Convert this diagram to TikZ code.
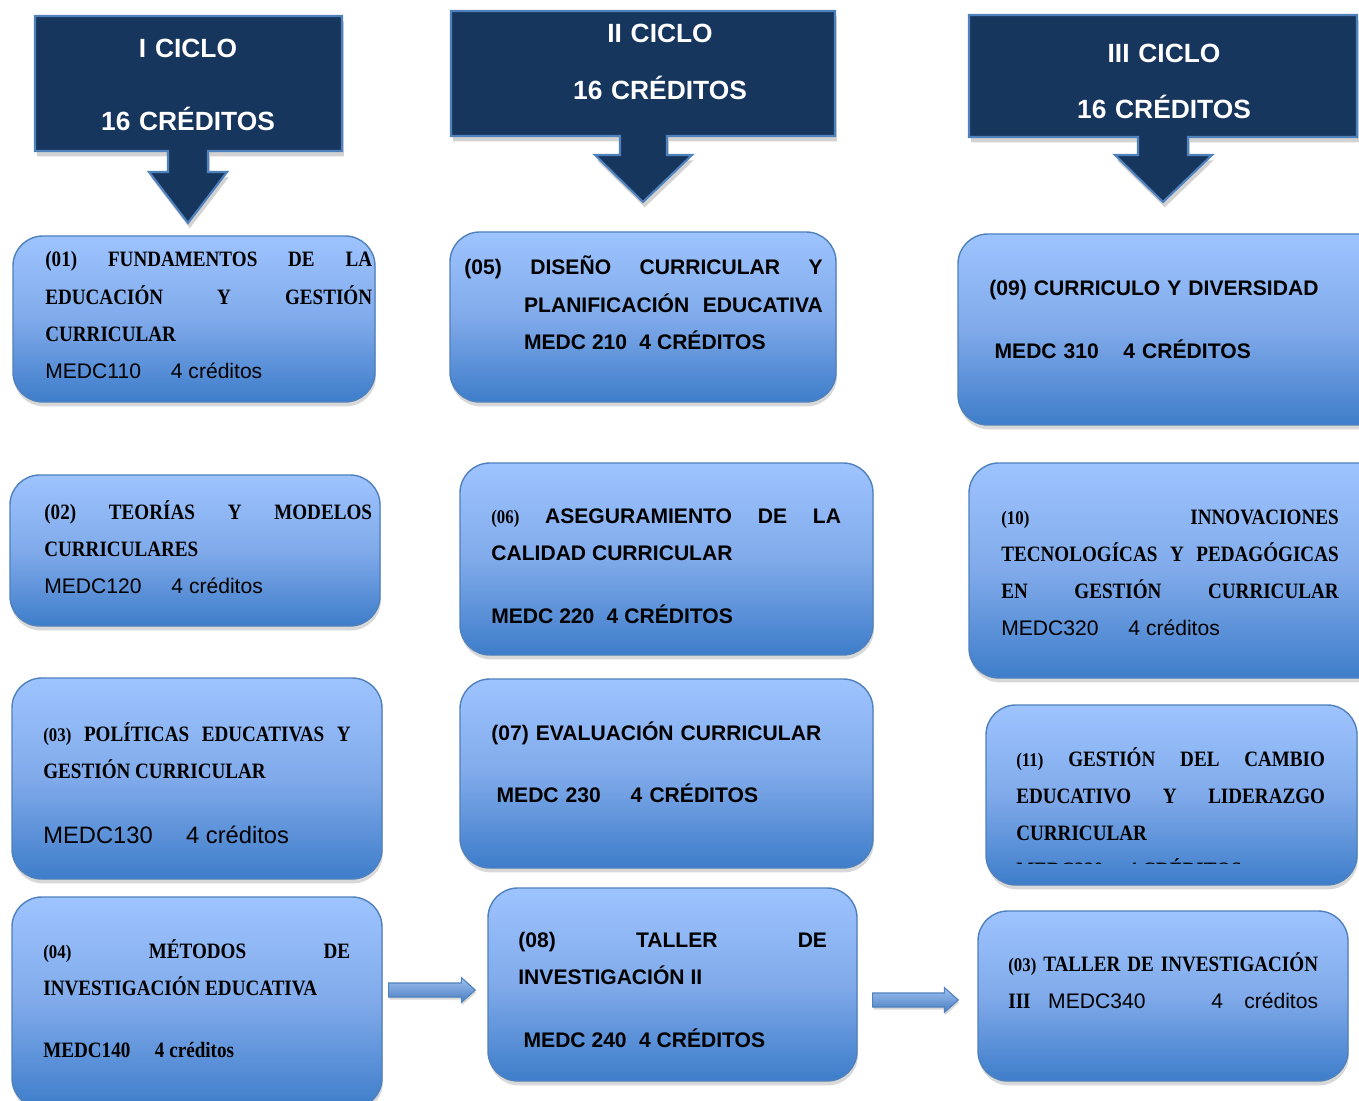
\documentclass[tikz,border=0pt]{standalone}
\usepackage{fontspec}
\usetikzlibrary{calc,fit,shadows}

\newfontfamily\arialfont{Liberation Sans}
\newfontfamily\cambfont[FakeStretch=0.87]{Liberation Serif}

\definecolor{cicloblue}{RGB}{23,54,93}
\definecolor{edgeblue}{RGB}{79,129,189}
\definecolor{boxtop}{RGB}{158,196,255}
\definecolor{boxmid}{RGB}{128,170,234}
\definecolor{boxbot}{RGB}{62,125,202}
\definecolor{arrtop}{RGB}{160,194,242}
\definecolor{arrbot}{RGB}{72,124,192}

\newcommand{\tcamb}{\cambfont\bfseries\fontsize{12.5}{21.2}\selectfont}
\newcommand{\tarial}{\arialfont\bfseries\fontsize{12}{21.2}\selectfont}
\newcommand{\tarialn}{\arialfont\mdseries\fontsize{12}{21.2}\selectfont}
\newcommand{\nro}[1]{{\fontsize{11}{21.2}\selectfont #1}}

\hyphenpenalty=10000
\exhyphenpenalty=10000
\tolerance=10000
\hbadness=10000

% block arrow between two coordinates
\newcommand{\blockarrow}[2]{%
  \draw[blockarr] ($(#1)+(0,-7)$) -- ($(#2)+(-14,-7)$) -- ($(#2)+(-14,-12.5)$)
    -- (#2) -- ($(#2)+(-14,12.5)$) -- ($(#2)+(-14,7)$) -- ($(#1)+(0,7)$) -- cycle;}

\tikzset{
  ciclo/.style={fill=cicloblue, draw=edgeblue, line width=1.2pt,
    drop shadow={shadow xshift=1pt, shadow yshift=-3pt, opacity=.35}},
  hdtext/.style={text=white, inner sep=0pt, anchor=base, align=center,
    text width=200pt, font=\arialfont\bfseries\fontsize{15}{18}\selectfont},
  course/.style={draw=edgeblue, line width=0.8pt, rounded corners=17pt,
    top color=boxtop, bottom color=boxbot, middle color=boxmid, inner sep=0pt,
    drop shadow={shadow xshift=0.5pt, shadow yshift=-2.5pt, opacity=.3}},
  txt/.style={inner sep=0pt, anchor=base west, align=justify, font=\tcamb},
  blockarr/.style={draw=edgeblue, line width=0.6pt, top color=arrtop, bottom color=arrbot,
    drop shadow={shadow xshift=0.5pt, shadow yshift=-1.5pt, opacity=.3}}
}

\begin{document}
\begin{tikzpicture}[x=0.02cm, y=-0.02cm]
\useasboundingbox[fill=white] (0,0) rectangle (1359,1101);

% ciclos
\draw[ciclo] (35,16) -- (342,16) -- (342,151) -- (208,151) -- (208,172) -- (227,172)
  -- (188,223) -- (149,172) -- (168,172) -- (168,151) -- (35,151) -- cycle;
\draw[ciclo] (451,11) -- (835,11) -- (835,136) -- (667,136) -- (667,155) -- (692,155)
  -- (643,202) -- (595,155) -- (620,155) -- (620,136) -- (451,136) -- cycle;
\draw[ciclo] (969,15) -- (1357,15) -- (1357,137) -- (1188,137) -- (1188,155) -- (1212,155)
  -- (1163,202) -- (1115,155) -- (1138,155) -- (1138,137) -- (969,137) -- cycle;
\node[hdtext] (h1) at (188,58) {I CICLO\\[23pt]16 CRÉDITOS};
\node[hdtext] (h2) at (660,43) {II CICLO\\[14.3pt]16 CRÉDITOS};
\node[hdtext] (h3) at (1164,63) {III CICLO\\[13.7pt]16 CRÉDITOS};

% cursos
\node[course, fit={(13,236) (375,402)}] (b01) {};
\node[course, fit={(10,475) (380,626)}] (b02) {};
\node[course, fit={(12,678) (382,879)}] (b03) {};
\node[course, fit={(12,897) (382,1108)}] (b04) {};
\node[course, fit={(450,232) (836,402)}] (b05) {};
\node[course, fit={(460,463) (873,655)}] (b06) {};
\node[course, fit={(460,679) (873,868)}] (b07) {};
\node[course, fit={(488,888) (857,1081)}] (b08) {};
\node[course, fit={(958,234) (1390,425)}] (b09) {};
\node[course, fit={(969,463) (1390,678)}] (b10) {};
\node[course, fit={(986,705) (1357,885)}] (b11) {};
\node[course, fit={(978,911) (1348,1081)}] (b12) {};

\node[txt, text width=186pt] (t01) at (45,267) {(01) FUNDAMENTOS DE LA\linebreak EDUCACIÓN Y GESTIÓN\linebreak CURRICULAR\\ {\tarialn MEDC110\hspace{17pt}4 créditos}};
\node[txt, text width=186.5pt] (t02) at (44,519) {(02) TEORÍAS Y MODELOS\linebreak CURRICULARES\\ {\tarialn MEDC120\hspace{17pt}4 créditos}};
\node[txt, text width=175pt] (t03) at (43,741) {\nro{(03)} POLÍTICAS EDUCATIVAS Y\linebreak GESTIÓN CURRICULAR\\[16pt] {\tarialn\fontsize{13.5}{21.2}\selectfont MEDC130\hspace{19pt}4 créditos}};
\node[txt, text width=174.6pt] (t04) at (43,958) {\nro{(04)} MÉTODOS DE\linebreak INVESTIGACIÓN EDUCATIVA\\[14.5pt] MEDC140\hspace{14pt}4 créditos};
\node[txt, text width=204pt, font=\tarial] (t05) at (464,275) {\leavevmode\hangindent=34pt\hangafter=1 (05) DISEÑO CURRICULAR Y\linebreak PLANIFICACIÓN EDUCATIVA\linebreak MEDC 210\hspace{7pt}4 CRÉDITOS\par};
\node[txt, text width=199pt, font=\tarial] (t06) at (491,523) {{\tcamb\nro{(06)}} ASEGURAMIENTO DE LA\linebreak CALIDAD CURRICULAR\\[15pt] MEDC 220\hspace{7pt}4 CRÉDITOS};
\node[txt, text width=198pt, font=\tarial, align=left] (t07) at (491,740) {(07) EVALUACIÓN CURRICULAR\\[14.5pt]\hspace*{3pt}MEDC 230\hspace{17pt}4 CRÉDITOS};
\node[txt, text width=175.7pt, font=\tarial] (t08) at (518,947) {(08) TALLER DE\linebreak INVESTIGACIÓN II\\[15pt]\hspace*{3pt}MEDC 240\hspace{7pt}4 CRÉDITOS};
\node[txt, text width=193pt, font=\tarial, align=left] (t09) at (989,296) {(09) CURRICULO Y DIVERSIDAD\\[14.5pt]\hspace*{3pt}MEDC 310\hspace{14pt}4 CRÉDITOS};
\node[txt, text width=192pt] (t10) at (1001,524) {\nro{(10)} INNOVACIONES\linebreak TECNOLOGÍCAS Y PEDAGÓGICAS\linebreak EN GESTIÓN CURRICULAR\linebreak {\tarialn MEDC320\hspace{17pt}4 créditos}};
\begin{scope}
\clip (980,700) rectangle (1360,863);
\node[txt, text width=175.7pt] (t11) at (1016,766) {\nro{(11)} GESTIÓN DEL CAMBIO\linebreak EDUCATIVO Y LIDERAZGO\linebreak CURRICULAR\\ MEDC330\hspace{14pt}4 CRÉDITOS};
\end{scope}
\node[txt, text width=176.3pt] (t12) at (1008,971) {\nro{(03)} TALLER DE INVESTIGACIÓN\linebreak III\hspace{10pt}{\tarialn MEDC340\hspace{0pt plus 1filll}4\hspace{12pt}créditos}};

% flechas
\coordinate (a1) at ($(b04.east)+(6,-12.5)$);
\coordinate (a2) at ($(b08.west)+(-12,5.5)$);
\coordinate (a3) at ($(b08.east)+(15,15.5)$);
\coordinate (a4) at ($(b12.west)+(-19,4)$);
\blockarrow{a1}{a2}
\blockarrow{a3}{a4}
\end{tikzpicture}
\end{document}
